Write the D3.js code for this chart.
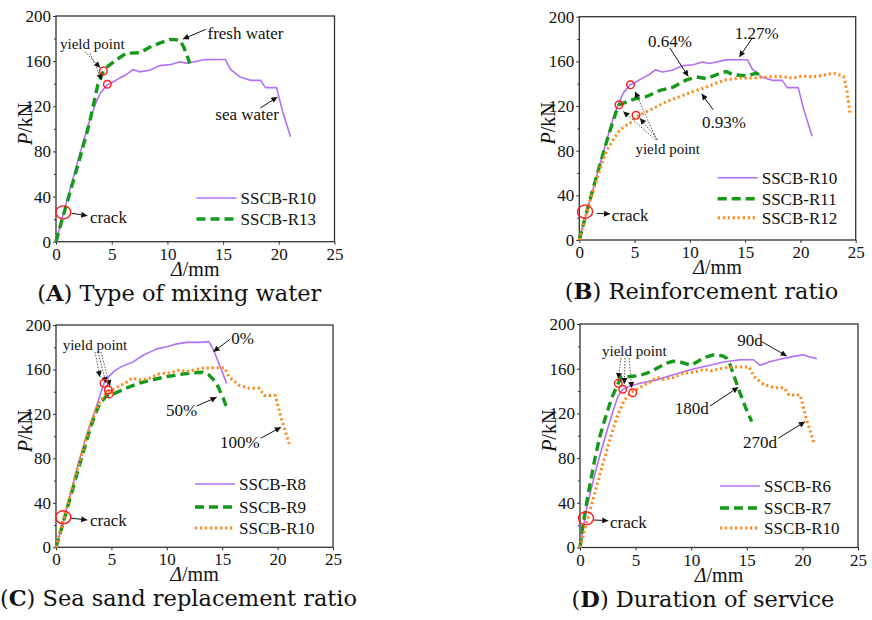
<!DOCTYPE html>
<html>
<head>
<meta charset="utf-8">
<script src="https://cdnjs.cloudflare.com/ajax/libs/d3/7.8.5/d3.min.js"></script>
<style>
  body { margin: 0; background: #fff; }
  svg text { font-family: "Liberation Serif", "Times New Roman", serif; fill: #111; }
</style>
</head>
<body>
<svg id="chart"></svg>
<script>
let width = 872
let height = 620

// load-deflection curves, [deflection mm, load kN]
let r10 = [[0,0],[0.5,19],[1,37],[1.5,55],[2,73],[2.5,90],[3,107],[3.5,121],[4,132],[4.6,139],[5.2,142],[5.7,145],[6.3,148],[6.9,152.5],[7.5,150.5],[8.4,152],[9.3,156],[10.3,157],[11.15,159.5],[11.75,158],[12.4,159.5],[13.3,161.3],[14.3,161.5],[15.2,161.5],[15.65,153],[16.5,146],[17.45,143],[18.35,143],[18.8,136.5],[19.8,136.5],[20.3,117],[21.05,93]]
let r13 = [[0,0],[0.5,18],[1,35],[1.5,52],[2,69],[2.5,87],[3,105],[3.4,123],[3.75,139],[4.25,151],[4.6,155],[5.4,161],[6.3,167],[7.5,167.5],[8.45,172.5],[9.3,176],[10.25,179.3],[11.1,178.7],[11.45,172.8],[11.75,165.4],[12,158]]
let r11 = [[0,0],[0.5,19],[1,37],[1.5,55],[2,72],[2.5,89],[3,105],[3.3,114],[3.59,121],[4.88,126],[6.09,128.5],[7.3,134],[8.5,137],[9.71,143.5],[10.6,146],[11.5,144.5],[12.4,148],[13.3,151],[13.9,148],[15.1,147],[16.05,149.5],[16.5,145]]
let r12 = [[0,0],[0.5,19],[1,36],[1.5,52],[2,67],[2.46,80],[3.08,90],[3.68,98.7],[4.58,104.6],[5.13,110],[5.5,112],[6.7,118],[7.9,124],[9.1,128.5],[10.3,133],[11.5,137],[12.4,140.5],[13.3,143.5],[14.5,145],[15.7,145],[16.9,146],[18.1,146.5],[19.3,145],[20.2,147],[21.1,146],[22.3,148],[23,149.5],[23.9,146.5],[24.2,134.5],[24.5,112]]
let r8 = [[0,0],[0.5,17],[1,36],[1.5,55],[2,75],[2.5,92],[3,108],[3.5,122],[4,138],[4.33,147.5],[4.6,152],[5.3,159],[6,163],[7,167],[7.9,173],[9.1,178.5],[10,180.5],[10.9,183],[11.8,184.4],[13,184.4],[13.8,185],[14.2,178],[14.8,163],[15.4,147.5]]
let r9 = [[0,0],[0.5,17],[1,35],[1.5,52],[2,70],[2.5,87],[3,104],[3.5,119],[4,130],[4.5,135.5],[4.87,138],[5.2,138],[6.4,143.5],[7.6,148],[8.8,151],[10,153.5],[11.2,155.5],[12.4,157],[13.2,157.5],[13.8,155],[14.3,150],[14.7,143],[15.1,134],[15.5,123]]
let r6 = [[0,0],[0.3,18],[0.6,35],[1,52],[1.5,72],[2,90],[2.5,107],[3,123],[3.4,135],[3.84,141.5],[4.5,144.5],[5.4,147],[6.9,150],[8.4,154.5],[9.9,159],[11.4,162.5],[12.9,166],[14.4,168],[15.6,168],[16.2,163],[17.1,166.5],[18,168.5],[19.2,171],[20.1,172.5],[20.5,171],[21.3,169]]
let r7 = [[0,0],[0.3,22],[0.6,40],[1,62],[1.35,80],[1.8,100],[2.4,120],[2.9,135],[3.44,147],[3.75,152.5],[4.5,153],[5.4,154],[6.3,157],[7.2,162],[7.8,165],[8.4,166.7],[9.2,165.5],[10,163],[10.5,166],[11.2,170],[12,172.3],[12.8,171.5],[13.2,169.4],[13.5,163.5],[13.9,152],[14.4,138],[14.9,125],[15.44,112.6]]

let xTicks = [0, 5, 10, 15, 20, 25]
let yTicks = [0, 40, 80, 120, 160, 200]
let yMinor = [20, 60, 100, 140, 180]

let styles = {
    purple: { stroke: "#b36ff7", width: 1.6, dash: null },
    green: { stroke: "#14991a", width: 3.4, dash: "9,5" },
    orange: { stroke: "#ff8a1c", width: 3, dash: "2.2,2.8" }
}

let panels = [
    {
        letter: "A", caption: "Type of mixing water",
        left: 56, right: 334.5, top: 16, bottom: 241.7,
        series: [["SSCB-R10", r10, "purple"], ["SSCB-R13", r13, "green"]],
        legendRows: [182, 203],
        notes: [["fresh water", 13.6, 185, "start"], ["sea water", 14.3, 113.2, "start"], ["crack", 3.06, 22.2, "start"]],
        yieldLabel: [0.36, 175.2, "start"],
        arrows: [[13.46,188.2,11.39,179.6], [18.35,118.5,19.87,128.2], [1.41,25.2,2.81,23]],
        leaders: [[2.61,168.4,3.96,154.2], [3.06,167,4.11,143.3]],
        yields: [[4.25,151.3], [4.61,139.5]],
        crack: [0.66, 26]
    },
    {
        letter: "B", caption: "Reinforcement ratio",
        left: 579.3, right: 855.7, top: 16.7, bottom: 240,
        series: [["SSCB-R10", r10, "purple"], ["SSCB-R11", r11, "green"], ["SSCB-R12", r12, "orange"]],
        legendRows: [161, 182, 201],
        notes: [["1.27%", 16.05, 185.4, "middle"], ["0.64%", 8.2, 177.8, "middle"], ["0.93%", 13.09, 105.2, "middle"], ["crack", 2.93, 22.4, "start"]],
        yieldLabel: [8.0, 81.6, "middle"],
        arrows: [[15.59,180,14.47,163.9], [8.2,171.9,9.86,146.5], [12.12,116.6,11.07,130.9], [1.57,23.9,2.78,23.3]],
        leaders: [[7.0,89.7,5.04,133], [6.9,89.7,3.98,115.1], [7.1,89.7,5.49,109.1]],
        yields: [[4.63,139], [3.59,121.1], [5.13,111.7]],
        crack: [0.52, 25.4]
    },
    {
        letter: "C", caption: "Sea sand replacement ratio",
        left: 56, right: 333, top: 325, bottom: 547.3,
        series: [["SSCB-R8", r8, "purple"], ["SSCB-R9", r9, "green"], ["SSCB-R10", r10, "orange"]],
        legendRows: [159, 182, 203],
        notes: [["0%", 16.85, 188, "middle"], ["50%", 11.34, 123.5, "middle"], ["100%", 16.6, 95, "middle"], ["crack", 3.07, 24.6, "start"]],
        yieldLabel: [3.52, 182.6, "middle"],
        arrows: [[15.7,187.1,14.2,176], [12.7,127.1,14.5,135], [18.47,98.1,20.3,108], [1.26,26.3,2.82,24.6]],
        leaders: [[3.52,175.7,3.97,153.2], [3.79,175.7,4.51,147.8], [4.06,175.7,4.87,145.1]],
        yields: [[4.33,147.5], [4.72,141.5], [4.81,138]],
        crack: [0.66, 27]
    },
    {
        letter: "D", caption: "Duration of service",
        left: 580, right: 858, top: 324, bottom: 547.5,
        series: [["SSCB-R6", r6, "purple"], ["SSCB-R7", r7, "green"], ["SSCB-R10", r10, "orange"]],
        legendRows: [162, 184, 204],
        notes: [["90d", 15.29, 185.7, "middle"], ["180d", 10.04, 124.6, "middle"], ["270d", 16.19, 94.7, "middle"], ["crack", 2.7, 23.2, "start"]],
        yieldLabel: [4.88, 175.8, "middle"],
        arrows: [[16.34,184.2,18.59,171.4], [11.69,126.6,14.24,143.4], [17.83,97.7,20.23,112.6], [1.26,24.6,2.54,24]],
        leaders: [[3.69,169.6,3.44,150.8], [4.05,169.6,3.98,146.3], [4.41,169.6,4.65,142.7]],
        yields: [[3.44,146.9], [3.84,141.6], [4.74,138.5]],
        crack: [0.54, 26.1]
    }
]

let svg = d3.select("#chart")
    .attr("width", width)
    .attr("height", height)

let defs = svg.append("defs")
defs.append("marker")
    .attr("id", "arrow")
    .attr("viewBox", "0 0 10 10")
    .attr("refX", 10)
    .attr("refY", 5)
    .attr("markerWidth", 8)
    .attr("markerHeight", 6)
    .attr("markerUnits", "userSpaceOnUse")
    .attr("orient", "auto")
    .append("path")
    .attr("d", "M0,0L10,5L0,10z")
    .attr("fill", "#111")

let applyStyle = (sel, key) => {
    let s = styles[key]
    sel.attr("fill", "none")
        .attr("stroke", s.stroke)
        .attr("stroke-width", s.width)
        .attr("stroke-dasharray", s.dash)
        .attr("stroke-linejoin", "round")
}

let drawPanel = (p) => {
    let x = d3.scaleLinear().domain([0, 25]).range([p.left, p.right])
    let y = d3.scaleLinear().domain([0, 200]).range([p.bottom, p.top])
    let g = svg.append("g")

    // axes
    let xAxis = g.append("g")
        .attr("transform", "translate(0," + p.bottom + ")")
        .call(d3.axisBottom(x).tickValues(xTicks).tickSize(3).tickPadding(3).tickSizeOuter(0))
    let yAxis = g.append("g")
        .attr("transform", "translate(" + p.left + ",0)")
        .call(d3.axisLeft(y).tickValues(yTicks).tickSize(3).tickPadding(2).tickSizeOuter(0))
    g.append("g")
        .attr("transform", "translate(" + p.left + ",0)")
        .call(d3.axisLeft(y).tickValues(yMinor).tickSize(2).tickFormat("").tickSizeOuter(0))
        .select(".domain").remove()
    ;[xAxis, yAxis].forEach(a => {
        a.select(".domain").remove()
        a.selectAll("text").style("font-size", "17px").attr("fill", "#111")
            .style("font-family", "'Liberation Serif', serif")
    })
    g.selectAll(".tick line").attr("stroke", "#333")

    g.append("rect")
        .attr("x", p.left).attr("y", p.top)
        .attr("width", p.right - p.left).attr("height", p.bottom - p.top)
        .attr("fill", "none").attr("stroke", "#333").attr("stroke-width", 1.3)

    // axis titles
    let cx = (p.left + p.right) / 2
    let ylab = g.append("text")
        .attr("transform", "translate(" + (p.left - 31) + "," + ((p.top + p.bottom) / 2 - 5) + ")rotate(-90)")
        .attr("text-anchor", "middle")
        .attr("dy", "0.35em")
        .style("font-size", "20px")
    ylab.append("tspan").style("font-style", "italic").text("P")
    ylab.append("tspan").text("/kN")

    let xlab = g.append("text")
        .attr("x", cx).attr("y", p.bottom + 34)
        .attr("text-anchor", "middle")
        .style("font-size", "20px")
    xlab.append("tspan").style("font-style", "italic").text("Δ")
    xlab.append("tspan").text("/mm")

    // curves
    let line = d3.line().x(d => x(d[0])).y(d => y(d[1]))
    p.series.forEach(s => {
        g.append("path").datum(s[1]).attr("d", line).call(applyStyle, s[2])
    })

    // legend
    p.series.forEach((s, i) => {
        let ly = p.top + p.legendRows[i]
        let lx = p.right - 138
        g.append("line")
            .attr("x1", lx).attr("x2", lx + 40)
            .attr("y1", ly).attr("y2", ly)
            .call(applyStyle, s[2])
        g.append("text")
            .attr("x", lx + 44).attr("y", ly)
            .attr("dy", "0.35em")
            .style("font-size", "17px")
            .text(s[0])
    })

    // annotations
    p.notes.forEach(n => {
        g.append("text")
            .attr("x", x(n[1])).attr("y", y(n[2]))
            .attr("dy", "0.35em")
            .attr("text-anchor", n[3])
            .style("font-size", "17px")
            .text(n[0])
    })
    g.append("text")
        .attr("x", x(p.yieldLabel[0])).attr("y", y(p.yieldLabel[1]))
        .attr("dy", "0.35em")
        .attr("text-anchor", p.yieldLabel[2])
        .style("font-size", "15px")
        .text("yield point")

    p.arrows.forEach(a => {
        g.append("line")
            .attr("x1", x(a[0])).attr("y1", y(a[1]))
            .attr("x2", x(a[2])).attr("y2", y(a[3]))
            .attr("stroke", "#111").attr("stroke-width", 1)
            .attr("marker-end", "url(#arrow)")
    })
    p.leaders.forEach(a => {
        g.append("line")
            .attr("x1", x(a[0])).attr("y1", y(a[1]))
            .attr("x2", x(a[2])).attr("y2", y(a[3]))
            .attr("stroke", "#444").attr("stroke-width", 0.9)
            .attr("stroke-dasharray", "1.5,1.5")
            .attr("marker-end", "url(#arrow)")
    })
    p.yields.forEach(c => {
        g.append("circle")
            .attr("cx", x(c[0])).attr("cy", y(c[1])).attr("r", 3.8)
            .attr("fill", "none").attr("stroke", "#ff1a1a").attr("stroke-width", 1.4)
    })
    g.append("ellipse")
        .attr("cx", x(p.crack[0])).attr("cy", y(p.crack[1]))
        .attr("rx", 7.5).attr("ry", 6.5)
        .attr("fill", "none").attr("stroke", "#ff1a1a").attr("stroke-width", 1.4)

    // caption
    let cap = g.append("text")
        .attr("x", cx - 16).attr("y", p.bottom + 59)
        .attr("text-anchor", "middle")
        .style("font-family", "'DejaVu Serif', serif")
        .style("font-size", "22.5px")
    cap.append("tspan").text("(")
    cap.append("tspan").style("font-weight", "bold").text(p.letter)
    cap.append("tspan").text(") " + p.caption)
}

panels.forEach(drawPanel)
</script>
</body>
</html>
